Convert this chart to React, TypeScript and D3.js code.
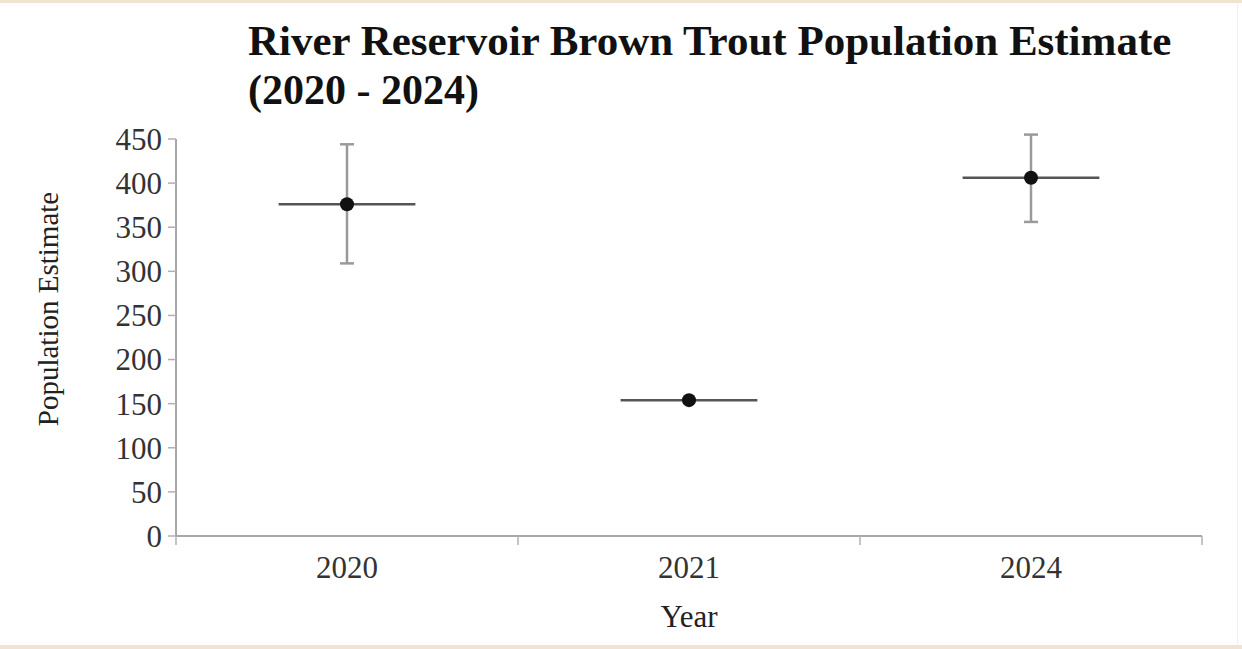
import { scaleBand, scaleLinear } from "d3";

const years = ["2020", "2021", "2024"];
const estimates = [376, 154, 406];
const lower = [309, 154, 356];
const upper = [444, 154, 455];
const yTicks = [0, 50, 100, 150, 200, 250, 300, 350, 400, 450];

const W = 1242;
const H = 649;
const m = { left: 176, right: 40, top: 139, bottom: 113 };
const serif = "'Liberation Serif', 'Times New Roman', serif";

export default function App() {
  const x = scaleBand<string>()
    .domain(years)
    .range([m.left, W - m.right]);
  const y = scaleLinear()
    .domain([0, 450])
    .range([H - m.bottom, m.top]);

  const bw = x.bandwidth();
  const y0 = y(0);

  return (
    <div style={{ position: "fixed", left: 0, top: 0 }}>
      <svg width={W} height={H} style={{ display: "block", background: "#fff" }}>
        {/* frame strips */}
        <rect x={0} y={0} width={W} height={3} fill="#efe4cf" />
        <rect x={0} y={H - 4} width={W} height={4} fill="#efe4cf" />
        <rect x={W - 5} y={3} width={1} height={H - 7} fill="#f2f2f2" />

        {/* title */}
        <text x={248} y={55} fontFamily={serif} fontWeight="bold" fontSize={43} fill="#111">
          River Reservoir Brown Trout Population Estimate
        </text>
        <text x={248} y={104} fontFamily={serif} fontWeight="bold" fontSize={42} fill="#111">
          (2020 - 2024)
        </text>

        {/* y axis */}
        <line x1={m.left} x2={m.left} y1={y(450)} y2={y0} stroke="#a8a8a8" strokeWidth={2} />
        {yTicks.map((t) => (
          <g key={t} transform={`translate(0,${y(t)})`}>
            <line x1={m.left - 8} x2={m.left} stroke="#b0b0b0" strokeWidth={1.5} />
            <text
              x={m.left - 14}
              dy="0.35em"
              textAnchor="end"
              fontFamily={serif}
              fontSize={31}
              fill="#333"
            >
              {t}
            </text>
          </g>
        ))}

        {/* x axis */}
        <line x1={m.left} x2={W - m.right} y1={y0} y2={y0} stroke="#a8a8a8" strokeWidth={2} />
        {[...years.map((d) => x(d)!), W - m.right].map((px, i) => (
          <line key={i} x1={px} x2={px} y1={y0} y2={y0 + 9} stroke="#b0b0b0" strokeWidth={1.5} />
        ))}
        {years.map((d) => (
          <text
            key={d}
            x={x(d)! + bw / 2}
            y={578}
            textAnchor="middle"
            fontFamily={serif}
            fontSize={31}
            fill="#333"
          >
            {d}
          </text>
        ))}

        {/* axis titles */}
        <text
          transform="translate(58,309) rotate(-90)"
          textAnchor="middle"
          fontFamily={serif}
          fontSize={29}
          fill="#222"
        >
          Population Estimate
        </text>
        <text x={x("2021")! + bw / 2} y={627} textAnchor="middle" fontFamily={serif} fontSize={31} fill="#222">
          Year
        </text>

        {/* error bars and points */}
        {years.map((d, i) => {
          const cx = x(d)! + bw / 2;
          const cy = y(estimates[i]);
          const half = bw * 0.2;
          const hasV = upper[i] > lower[i];
          return (
            <g key={d}>
              {hasV && (
                <g stroke="#9a9a9a" strokeWidth={2.5}>
                  <line x1={cx} x2={cx} y1={y(upper[i])} y2={y(lower[i])} />
                  <line x1={cx - 7} x2={cx + 7} y1={y(upper[i])} y2={y(upper[i])} />
                  <line x1={cx - 7} x2={cx + 7} y1={y(lower[i])} y2={y(lower[i])} />
                </g>
              )}
              <line x1={cx - half} x2={cx + half} y1={cy} y2={cy} stroke="#555" strokeWidth={2.5} />
              <circle cx={cx} cy={cy} r={7} fill="#111" />
            </g>
          );
        })}
      </svg>
    </div>
  );
}
